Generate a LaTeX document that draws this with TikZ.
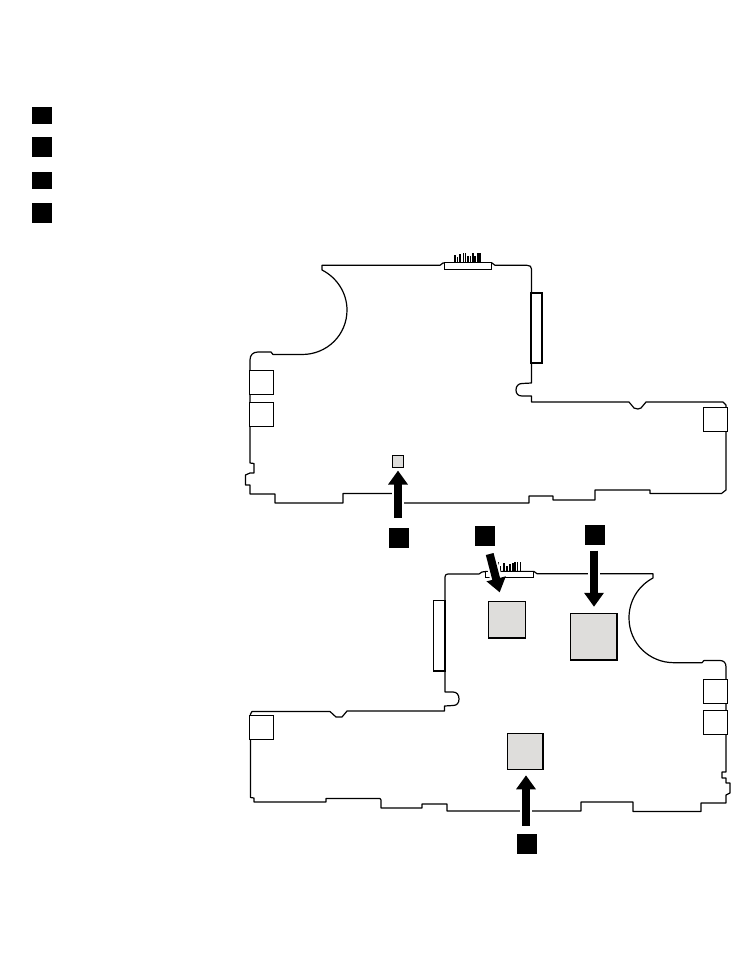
\documentclass[tikz,border=0pt]{standalone}
\usepackage{xcolor}
\usetikzlibrary{arrows.meta}

\definecolor{chipgray}{HTML}{DEDDDB}

\tikzset{
    badge/.style={fill=black, inner sep=0pt, minimum width=15pt, minimum height=15pt},
    shortbadge/.style={badge, minimum height=12.75pt},
    chip/.style={draw=black, fill=chipgray, line width=0.9pt, inner sep=0pt},
    port/.style={draw=black, fill=white, line width=0.6pt, inner sep=0pt, minimum width=18pt, minimum height=18pt},
    slot/.style={draw=black, fill=white, line width=1.1pt, inner sep=0pt, minimum width=8.5pt, minimum height=53pt},
    board/.style={line width=0.9pt, line join=round},
    pin/.style={line width=0.85pt},
    partarrow/.style={line width=6pt, -{Triangle[length=10.5pt,width=14.25pt]},
        preaction={draw=white, line width=9pt, -}}
}

\begin{document}
\begin{tikzpicture}[x=0.75pt, y=-0.75pt]
    \useasboundingbox (0,0) rectangle (731,972);

    % legend
    \node[shortbadge] (leg1) at (42,115.5) {};
    \node[badge] (leg2) at (42,147) {};
    \node[shortbadge] (leg3) at (42,180.5) {};
    \node[badge] (leg4) at (42,213) {};

    % upper board
    \draw[board] (322,265.3) -- (440,265.3) -- (443,263) -- (492,263) -- (495,265.3) -- (527,265.3)
        .. controls (530,265.3) and (531.5,266.5) .. (531.5,269) -- (531.5,383) -- (522,383.5)
        .. controls (518,383.5) and (516,386.5) .. (516,390)
        .. controls (516,393.5) and (518,396) .. (522,396) -- (531.5,396) -- (531.5,402) -- (629,402)
        -- (634,408) -- (638,409) -- (641,408) -- (646,402) -- (723,402) -- (726,405) -- (726,490)
        -- (721.5,493.5) -- (650,493.5) -- (650,490) -- (595,490) -- (595,500) -- (553,500)
        -- (553,496) -- (529,496) -- (529,503) -- (398,503) -- (398,493.5) -- (343,493.5) -- (343,503)
        -- (275,503) -- (275,494) -- (250,494) -- (250,485) -- (245.5,485) -- (245.5,475) -- (250,473)
        -- (254,473) -- (254,463.5) -- (250,463) -- (250,360)
        .. controls (250,355) and (253,352) .. (258,352) -- (271,352) -- (273,354.5) -- (302,354.5)
        .. controls (327,354.5) and (347,335) .. (347,310)
        .. controls (347,293) and (337,277.6) .. (322,270) -- cycle;

    \node[port] (portA) at (261.2,382.8) {};
    \node[port] (portB) at (261,414.3) {};
    \node[port] (portC) at (715,419.5) {};
    \node[slot, line width=1.4pt] (slotA) at (536.7,328) {};
    \node[draw=black, fill=white, line width=0.7pt, inner sep=0pt, minimum width=35.5pt, minimum height=5pt] (sockA) at (468,266) {};
    \foreach \px/\py in {455/255,457.5/257,460/254,463.5/253,465.5/253,468/256,470.5/256,473/253,475/256,478/253,480/253}
        \draw[pin] (\px,\py) -- (\px,262.5);
    \node[chip, minimum width=8.5pt, minimum height=8.7pt] (chipD) at (398,461.5) {};

    % lower board
    \draw[board] (653,573.7) -- (537,573.7) -- (534,571.5) -- (486,571.5) -- (482,572) -- (479,574) -- (448,574)
        .. controls (446,574) and (445,575) .. (445,577) -- (445,692) -- (453,692)
        .. controls (457,692) and (459,695) .. (459,699)
        .. controls (459,703) and (457,705.5) .. (453,705.5) -- (444.5,706) -- (444.5,711) -- (347,711)
        -- (342,717) -- (336,717) -- (330,711.5) -- (252,711.5) -- (250.5,714) -- (250.5,797.5) -- (254,798)
        -- (254,802) -- (326,802) -- (326,798.5) -- (380,798.5) -- (381,800) -- (381,808) -- (422,808)
        -- (422,804) -- (447,804) -- (447,811) -- (581,811) -- (581,802) -- (633,802) -- (633,811.5)
        -- (701,811.5) -- (701,803) -- (726,803) -- (726,795) -- (730,793) -- (730,783) -- (726,783)
        -- (726,778) -- (722,778) -- (722,772) -- (726,772) -- (726,667)
        .. controls (726,663) and (724,660.5) .. (720,660.5) -- (704,660.5) -- (702,662.7) -- (674,662.7)
        .. controls (649,662.7) and (629,643) .. (629,618)
        .. controls (629,601) and (638,586) .. (653,578) -- cycle;

    \node[port] (portD) at (715,691.3) {};
    \node[port] (portE) at (715.2,722.3) {};
    \node[port] (portF) at (261.5,727.3) {};
    \node[slot] (slotB) at (439.3,635.8) {};
    \node[draw=black, fill=white, line width=0.7pt, inner sep=0pt, minimum width=35.5pt, minimum height=4.5pt] (sockB) at (509.5,574) {};
    \foreach \px/\py in {498/562,500.5/566,504/563,507/566,510/564,513/563,515/562,517.5/562,520.5/562}
        \draw[pin] (\px,\py) -- (\px,571);
    \node[chip, minimum width=27.5pt, minimum height=27.5pt] (chipA) at (506.8,619.7) {};
    \node[chip, minimum width=35pt, minimum height=35pt] (chipB) at (593.7,636.7) {};
    \node[chip, minimum width=26.8pt, minimum height=26.8pt] (chipC) at (525.2,751.5) {};

    % callouts
    \node[badge] (tagD) at (399,538) {};
    \node[badge] (tagA) at (485,536) {};
    \node[badge] (tagB) at (595,535) {};
    \node[badge] (tagC) at (527,844) {};

    \draw[partarrow, shorten <=7.5pt, shorten >=2pt] ([xshift=-0.75pt]tagD.north) -- ([xshift=-0.75pt]tagD.north |- chipD.south);
    \draw[partarrow, shorten <=6pt, shorten >=6.5pt] (tagA) -- (chipA);
    \draw[partarrow, shorten <=4pt, shorten >=4.5pt] ([xshift=-0.75pt]tagB.south) -- ([xshift=-0.75pt]tagB.south |- chipB.north);
    \draw[partarrow, shorten <=6pt, shorten >=4pt] ([xshift=-0.75pt]tagC.north) -- ([xshift=-0.75pt]tagC.north |- chipC.south);
\end{tikzpicture}
\end{document}
